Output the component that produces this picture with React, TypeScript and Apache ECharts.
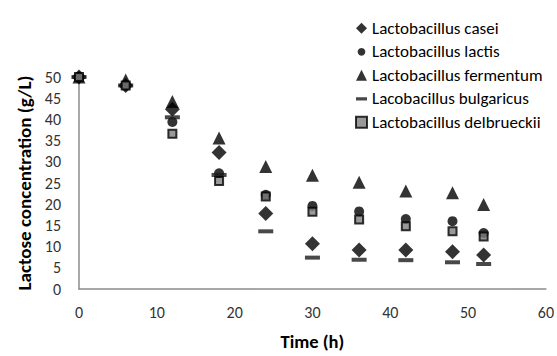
import React, { useEffect, useRef } from "react";
import * as echarts from "echarts";

const times = [0, 6, 12, 18, 24, 30, 36, 42, 48, 52];
const casei = [50, 48, 42.4, 32.2, 17.8, 10.7, 9.2, 9.2, 8.8, 8.0];
const lactis = [50, 48, 39.4, 27.3, 22.2, 19.6, 18.3, 16.5, 16.0, 13.2];
const fermentum = [50, 49.3, 44.2, 35.6, 28.9, 26.8, 25.2, 23.1, 22.7, 19.9];
const bulgaricus = [50, 48, 40.5, 26.9, 13.6, 7.4, 6.9, 6.8, 6.3, 5.9];
const delbrueckii = [50, 48, 36.6, 25.5, 21.8, 18.2, 16.4, 14.8, 13.6, 12.4];

const seriesNames = [
  "Lactobacillus casei",
  "Lactobacillus lactis",
  "Lactobacillus fermentum",
  "Lacobacillus bulgaricus",
  "Lactobacillus delbrueckii",
];
const xTicks = [0, 60, 10];
const yTicks = [0, 50, 5];

const FONT = "Carlito, Lato, sans-serif";

export default function App() {
  const ref = useRef<HTMLDivElement>(null);
  useEffect(() => {
    if (!ref.current) return;
    const chart = echarts.init(ref.current, undefined, { renderer: "svg" });
    const pts = (arr: number[]) => times.map((t, i) => [t, arr[i]]);
    const dashIcon = "path://M0,0h0.01v0.01h-0.01z M0,3.5h10v3H0z M0,10h0.01v0.01h-0.01z";
    const circleIcon =
      "path://M5,1.5a3.5,3.5 0 1,0 0.001,0z M0,0h0.01v0.01h-0.01z M10,10h0.01v0.01h-0.01z";
    chart.setOption({
      animation: false,
      backgroundColor: "#ffffff",
      grid: { left: 79, right: 10, top: 77, bottom: 63 },
      legend: {
        orient: "vertical",
        left: 350,
        top: 14.8,
        itemWidth: 11,
        itemHeight: 11,
        itemGap: 6.5,
        textStyle: { fontFamily: FONT, fontSize: 17, color: "#000", lineHeight: 17 },
        data: [
          { name: seriesNames[0], icon: "diamond", itemStyle: { color: "#000" } },
          { name: seriesNames[1], icon: circleIcon, itemStyle: { color: "#000" } },
          { name: seriesNames[2], icon: "triangle", itemStyle: { color: "#000" } },
          { name: seriesNames[3], icon: dashIcon, itemStyle: { color: "#1a1a1a" } },
          {
            name: seriesNames[4],
            icon: "rect",
            itemStyle: { color: "#808080", borderColor: "#000", borderWidth: 2 },
          },
        ],
      },
      xAxis: {
        type: "value",
        min: xTicks[0],
        max: xTicks[1],
        interval: xTicks[2],
        name: "Time (h)",
        nameLocation: "middle",
        nameGap: 43,
        nameTextStyle: { fontFamily: FONT, fontSize: 18.5, fontWeight: "bold", color: "#000" },
        axisLine: { lineStyle: { color: "#8c8c8c", width: 1.5 } },
        axisTick: { show: false },
        splitLine: { show: false },
        axisLabel: { fontFamily: FONT, fontSize: 16, color: "#333", margin: 15 },
      },
      yAxis: {
        type: "value",
        min: yTicks[0],
        max: yTicks[1],
        interval: yTicks[2],
        name: "Lactose concentration (g/L)",
        nameLocation: "middle",
        nameGap: 42,
        nameTextStyle: { fontFamily: FONT, fontSize: 19, fontWeight: "bold", color: "#000" },
        axisLine: { show: true, lineStyle: { color: "#8c8c8c", width: 1.5 } },
        axisTick: { show: false },
        splitLine: { show: false },
        axisLabel: { fontFamily: FONT, fontSize: 16, color: "#333", margin: 18 },
      },
      series: [
        {
          name: seriesNames[0],
          type: "scatter",
          symbol: "diamond",
          symbolSize: 15,
          itemStyle: { color: "#000" },
          data: pts(casei),
        },
        {
          name: seriesNames[1],
          type: "scatter",
          symbol: "circle",
          symbolSize: 10,
          itemStyle: { color: "#000" },
          data: pts(lactis),
        },
        {
          name: seriesNames[2],
          type: "scatter",
          symbol: "triangle",
          symbolSize: 13,
          itemStyle: { color: "#000" },
          data: pts(fermentum),
        },
        {
          name: seriesNames[3],
          type: "scatter",
          symbol: "rect",
          symbolSize: [15, 4],
          itemStyle: { color: "#1a1a1a" },
          data: pts(bulgaricus),
        },
        {
          name: seriesNames[4],
          type: "scatter",
          symbol: "rect",
          symbolSize: 8,
          itemStyle: { color: "#808080", borderColor: "#000", borderWidth: 2 },
          data: pts(delbrueckii),
        },
      ],
    });
    return () => chart.dispose();
  }, []);
  return (
    <div
      ref={ref}
      style={{ position: "fixed", left: 0, top: 0, width: 557, height: 356 }}
    />
  );
}
